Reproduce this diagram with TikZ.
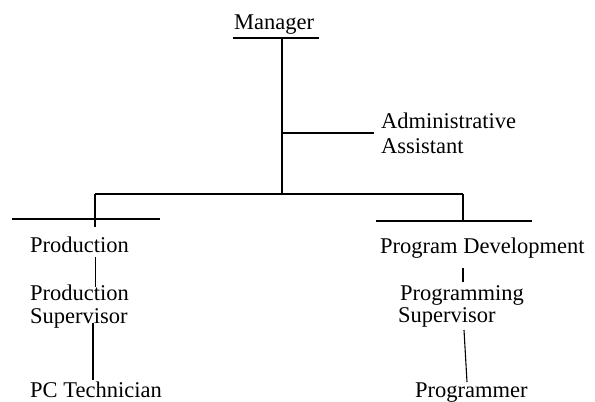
\documentclass[tikz,border=0pt]{standalone}
\usepackage{fontspec}
\setmainfont{Liberation Serif}
\usetikzlibrary{positioning, calc}
\tikzset{
	title/.style={inner sep=0pt, anchor=base west, align=left, font=\fontsize{22.5}{25}\selectfont},
	link/.style={line width=1.1pt},
	rule/.style={line width=1.4pt}
}
\begin{document}
\begin{tikzpicture}[x=1pt, y=-1pt]
	\useasboundingbox (0,0) rectangle (595,402);

	% Top level
	\node (mgr) [title] at (234,29) {Manager};
	\coordinate (mgrL) at (233,38);
	\coordinate (mgrR) at (319,38);
	\coordinate (trunk) at (282,38);
	\draw [rule] (mgrL) -- (mgrR);

	% Staff position (anchor is the baseline of the last line)
	\node (admin) [title, font=\fontsize{22.5}{25}\selectfont] at (381,153) {Administrative\\Assistant};
	\coordinate (adminJ) at (282,133);
	\coordinate (adminE) at (374,133);

	% Bus to the two departments
	\coordinate (busM) at (282,194);
	\coordinate (busL) at (95,194);
	\coordinate (busR) at (463,194);
	\draw [link] (trunk) -- (busM);
	\draw [link] (adminJ) -- (adminE);
	\draw [link] (busL) -- (busR);

	% Production side
	\coordinate (prodJ) at (95,227);
	\draw [rule] (12,219) coordinate (prodL) -- (160,219) coordinate (prodR);
	\draw [link] (busL) -- (prodJ);
	\node (prod) [title] at (30,252) {Production};
	\node (prodsup) [title, font=\fontsize{22.5}{23}\selectfont] at (30,323) {Production\\Supervisor};
	\node (pctech) [title] at (30,397) {PC Technician};
	\draw [link, line width=0.6pt] (95,257) coordinate (prodB) -- (95,287) coordinate (prodsupT);
	\draw [link] (93,323) coordinate (prodsupB) -- (93,380) coordinate (pctechT);

	% Program development side
	\coordinate (devJ) at (463,222);
	\draw [rule] (376,221) coordinate (devL) -- (532,221) coordinate (devR);
	\draw [link] (busR) -- (devJ);
	\node (dev) [title] at (380,253) {Program Development};
	\node (progsup) [title, font=\fontsize{22.5}{22}\selectfont] at (398,322) {\hspace*{2pt}Programming\\Supervisor};
	\node (prog) [title] at (415,397) {Programmer};
	\draw [link, line width=1.4pt] (463,268) coordinate (devB) -- (463,282) coordinate (progsupT);
	\draw [link] (464,330) coordinate (progsupB) -- (467,382) coordinate (progT);
\end{tikzpicture}
\end{document}
